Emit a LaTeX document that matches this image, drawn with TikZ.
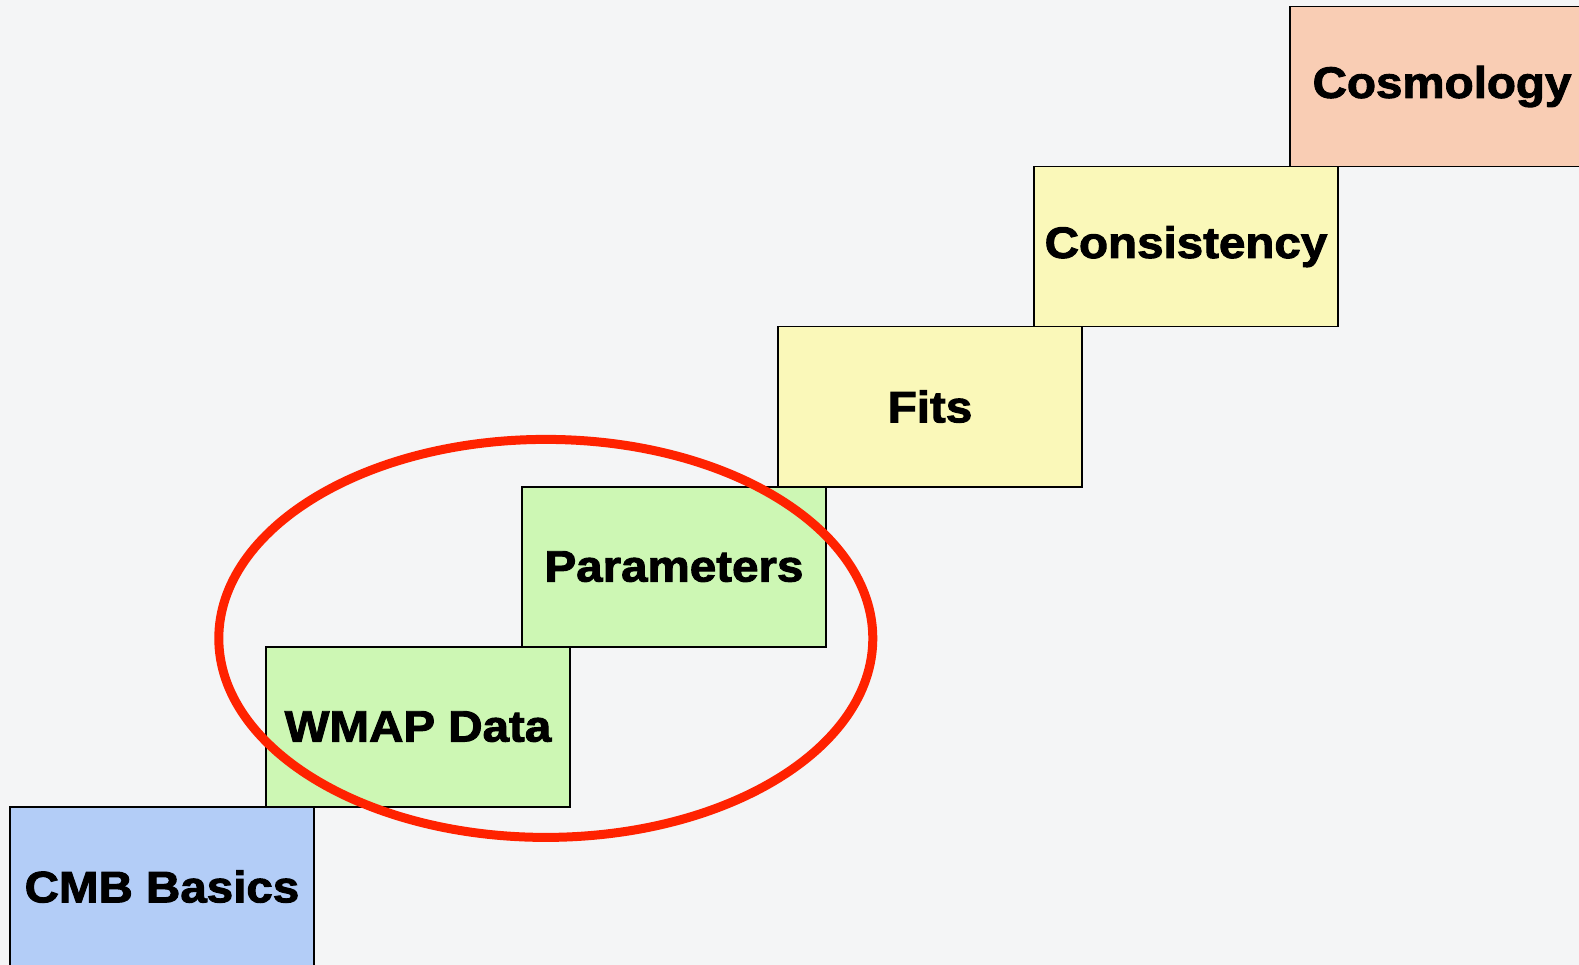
\documentclass[tikz,border=0pt]{standalone}
\usepackage{fontspec}
\setmainfont{Liberation Sans}[FakeStretch=1.08, BoldFeatures={FakeBold=2.2}]
\usepackage{tikz}
\usetikzlibrary{shapes.geometric, positioning}

\definecolor{bgpaper}{RGB}{244,245,246}
\definecolor{basicsblue}{RGB}{179,205,247}
\definecolor{datagreen}{RGB}{205,247,180}
\definecolor{fitsyellow}{RGB}{250,248,185}
\definecolor{cosmopeach}{RGB}{249,205,180}
\definecolor{markred}{RGB}{255,34,0}

\begin{document}
\begin{tikzpicture}[
    x=1pt, y=-1pt,
    stair/.style={rectangle, draw=black, line width=1.8pt, minimum width=304pt, minimum height=160pt, inner sep=0pt, outer sep=0pt, text centered, font=\fontsize{44}{50}\selectfont\bfseries},
    ring/.style={ellipse, draw=markred, line width=9pt, minimum width=654pt, minimum height=398pt, inner sep=0pt},
    node distance=0pt and -48pt
]
\clip (0,0) rectangle (1579,965);
\fill[bgpaper] (0,0) rectangle (1579,965);

% Bottom step
\node[stair, fill=basicsblue, anchor=north west] (basics) at (10,806.6) {CMB Basics};

% Climbing steps
\node[stair, fill=datagreen, above right=of basics] (wmap) {WMAP Data};
\node[stair, fill=datagreen, above right=of wmap] (params) {Parameters};
\node[stair, fill=fitsyellow, above right=of params] (fits) {Fits};
\node[stair, fill=fitsyellow, above right=of fits] (consist) {Consistency};
\node[stair, fill=cosmopeach, above right=of consist] (cosmo) {Cosmology};

% Highlight round data and parameters
\node[ring] (focus) at (545.8,638.4) {};
\end{tikzpicture}
\end{document}
